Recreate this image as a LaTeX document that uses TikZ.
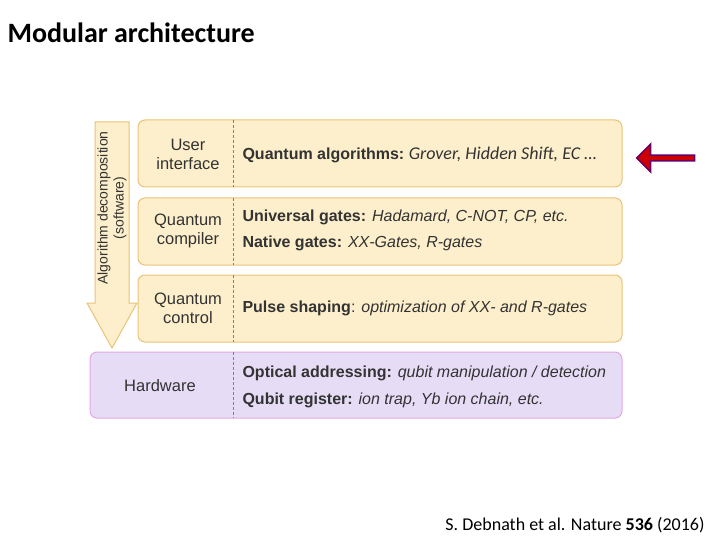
\documentclass[tikz,border=0pt]{standalone}
\usepackage{fontspec}
\setmainfont{Liberation Sans}
\newfontfamily\calibri{Carlito}
\usetikzlibrary{positioning,shapes.arrows}
\definecolor{layerfill}{HTML}{FDEFCB}
\definecolor{layerdraw}{HTML}{E9C377}
\definecolor{hwfill}{HTML}{E6DCF6}
\definecolor{hwdraw}{HTML}{E2A8E6}
\definecolor{textgray}{HTML}{333333}
\begin{document}
\begin{tikzpicture}[x=1pt,y=-1pt,
  layer/.style={draw=layerdraw,fill=layerfill,rounded corners=7pt,line width=1pt},
  hw/.style={layer,draw=hwdraw,fill=hwfill},
  tag/.style={align=center,font=\fontsize{16.5}{19}\selectfont,text=textgray},
  item/.style={anchor=west,font=\fontsize{16}{19}\selectfont,text=textgray},
  split/.style={densely dashed,gray,line width=0.6pt}]

  \useasboundingbox (0,0) rectangle (720,540);

  % header
  \node[anchor=west,font=\calibri\bfseries\fontsize{28}{32}\selectfont] (title) at (4,33) {Modular architecture};

  % big arrow (software)
  \draw[fill=layerfill,draw=layerdraw,line width=1pt]
    (95,122) -- (129,122) -- (129,303) -- (137,303) -- (112,348) -- (87,303) -- (95,303) -- cycle;
  \node[rotate=90,align=center,font=\fontsize{14}{16}\selectfont,text=textgray] (decomp) at (112,208)
    {Algorithm decomposition\\(software)};

  % layers
  \draw[layer] (138,120) rectangle (622,187);
  \draw[layer] (138,198) rectangle (622,265);
  \draw[layer] (138,275) rectangle (622,342);
  \draw[hw]    (90,352)  rectangle (622,418);
  \foreach \top/\bot in {120/187,198/265,275/342,352/418}
    \draw[split] (233,\top) -- (233,\bot);

  \node[tag] (user) at (188,154) {User\\interface};
  \node[tag] (compiler) at (188,231) {Quantum\\compiler};
  \node[tag] (control) at (188,308) {Quantum\\control};
  \node[tag] (hardware) at (160,386) {Hardware};

  \node[item] (algo) at (239,155) {\textbf{Quantum algorithms:}\ {\calibri\itshape\fontsize{18}{20}\selectfont Grover, Hidden Shift, EC \dots}};
  \node[item] (univ) at (239,217) {\textbf{Universal gates:} \textit{Hadamard, C-NOT, CP, etc.}};
  \node[item] (native) at (239,243) {\textbf{Native gates:} \textit{XX-Gates, R-gates}};
  \node[item] (pulse) at (239,308) {\textbf{Pulse shaping}: \textit{optimization of XX- and R-gates}};
  \node[item] (optic) at (239,373) {\textbf{Optical addressing:} \textit{qubit manipulation / detection}};
  \node[item] (qubit) at (239,400) {\textbf{Qubit register:} \textit{ion trap, Yb ion chain, etc.}};

  % pointer
  \node[single arrow,shape border rotate=180,fill=red!80!black,draw=violet!80!black,line width=1.5pt,
        minimum height=58pt,minimum width=28pt,single arrow head extend=7pt,inner sep=1pt] (pointer) at (667,158) {};

  \node[anchor=east,font=\calibri\fontsize{18}{20}\selectfont] (cite) at (708,525)
    {S. Debnath et al. Nature \textbf{536} (2016)};
\end{tikzpicture}
\end{document}
